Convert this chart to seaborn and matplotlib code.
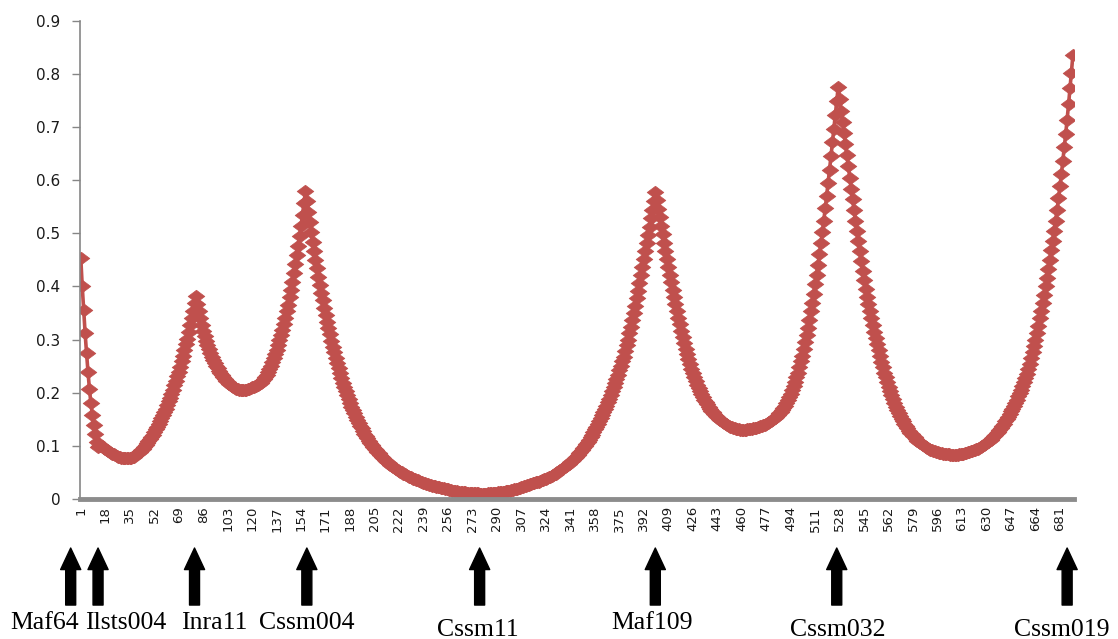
import matplotlib
matplotlib.use('Agg')
import matplotlib.pyplot as plt
from matplotlib.path import Path
import numpy as np
import pandas as pd
import seaborn as sns

# Profile values, one per map position (1..690),
# split at the valleys between the markers
lod_1_34 = [
    0.454, 0.401, 0.356, 0.313, 0.275, 0.240, 0.208, 0.181, 0.159, 0.139,
    0.122, 0.108, 0.098, 0.099, 0.100, 0.099, 0.097, 0.095, 0.093, 0.091,
    0.089, 0.087, 0.085, 0.084, 0.082, 0.081, 0.080, 0.079, 0.078, 0.078,
    0.077, 0.077, 0.077, 0.077]
lod_35_113 = [
    0.077, 0.078, 0.079, 0.080, 0.082, 0.084, 0.086, 0.089, 0.092, 0.095,
    0.098, 0.101, 0.105, 0.109, 0.113, 0.117, 0.121, 0.126, 0.131, 0.136,
    0.141, 0.146, 0.152, 0.158, 0.164, 0.170, 0.177, 0.184, 0.191, 0.198,
    0.206, 0.214, 0.222, 0.231, 0.240, 0.249, 0.259, 0.269, 0.280, 0.291,
    0.302, 0.314, 0.327, 0.340, 0.354, 0.368, 0.383, 0.367, 0.353, 0.340,
    0.328, 0.317, 0.307, 0.298, 0.290, 0.282, 0.275, 0.268, 0.262, 0.256,
    0.251, 0.246, 0.241, 0.237, 0.233, 0.229, 0.226, 0.223, 0.220, 0.217,
    0.215, 0.213, 0.211, 0.209, 0.208, 0.207, 0.206, 0.205, 0.205]
lod_114_278 = [
    0.205, 0.205, 0.206, 0.207, 0.208, 0.209, 0.210, 0.211, 0.212, 0.213,
    0.215, 0.217, 0.219, 0.222, 0.225, 0.229, 0.234, 0.239, 0.245, 0.251,
    0.258, 0.265, 0.273, 0.281, 0.290, 0.299, 0.309, 0.319, 0.330, 0.341,
    0.353, 0.366, 0.380, 0.394, 0.409, 0.425, 0.442, 0.459, 0.477, 0.495,
    0.514, 0.535, 0.557, 0.580, 0.560, 0.540, 0.521, 0.502, 0.484, 0.467,
    0.450, 0.434, 0.418, 0.403, 0.388, 0.374, 0.360, 0.347, 0.334, 0.322,
    0.310, 0.298, 0.287, 0.276, 0.266, 0.256, 0.246, 0.237, 0.228, 0.219,
    0.211, 0.203, 0.195, 0.188, 0.181, 0.174, 0.167, 0.161, 0.155, 0.149,
    0.143, 0.138, 0.133, 0.128, 0.123, 0.118, 0.114, 0.110, 0.106, 0.102,
    0.098, 0.095, 0.092, 0.089, 0.086, 0.083, 0.080, 0.077, 0.074, 0.072,
    0.069, 0.067, 0.065, 0.063, 0.061, 0.059, 0.057, 0.055, 0.053, 0.051,
    0.050, 0.048, 0.047, 0.045, 0.044, 0.042, 0.041, 0.040, 0.038, 0.037,
    0.036, 0.035, 0.034, 0.033, 0.032, 0.031, 0.030, 0.029, 0.028, 0.027,
    0.026, 0.025, 0.025, 0.024, 0.023, 0.022, 0.022, 0.021, 0.020, 0.020,
    0.019, 0.018, 0.018, 0.017, 0.017, 0.016, 0.016, 0.015, 0.015, 0.014,
    0.014, 0.014, 0.013, 0.013, 0.013, 0.012, 0.012, 0.012, 0.012, 0.011,
    0.011, 0.011, 0.011, 0.011, 0.010]
lod_279_460 = [
    0.010, 0.010, 0.010, 0.010, 0.010, 0.011, 0.011, 0.011, 0.011, 0.012,
    0.012, 0.012, 0.013, 0.013, 0.013, 0.014, 0.014, 0.015, 0.015, 0.016,
    0.016, 0.017, 0.017, 0.018, 0.019, 0.019, 0.020, 0.021, 0.022, 0.023,
    0.024, 0.025, 0.026, 0.027, 0.028, 0.029, 0.030, 0.031, 0.032, 0.033,
    0.033, 0.034, 0.035, 0.036, 0.037, 0.038, 0.040, 0.041, 0.042, 0.044,
    0.045, 0.047, 0.048, 0.050, 0.052, 0.054, 0.056, 0.058, 0.060, 0.062,
    0.064, 0.066, 0.069, 0.071, 0.074, 0.077, 0.080, 0.083, 0.086, 0.089,
    0.093, 0.096, 0.100, 0.104, 0.108, 0.112, 0.117, 0.121, 0.126, 0.131,
    0.136, 0.141, 0.146, 0.152, 0.158, 0.164, 0.170, 0.176, 0.182, 0.189,
    0.196, 0.203, 0.210, 0.218, 0.226, 0.234, 0.242, 0.250, 0.259, 0.268,
    0.278, 0.289, 0.300, 0.312, 0.324, 0.337, 0.350, 0.364, 0.378, 0.392,
    0.407, 0.422, 0.437, 0.452, 0.467, 0.482, 0.497, 0.512, 0.528, 0.544,
    0.561, 0.578, 0.562, 0.546, 0.530, 0.514, 0.498, 0.482, 0.466, 0.451,
    0.436, 0.422, 0.408, 0.394, 0.380, 0.367, 0.354, 0.341, 0.329, 0.317,
    0.305, 0.294, 0.283, 0.273, 0.263, 0.254, 0.245, 0.237, 0.229, 0.222,
    0.215, 0.209, 0.203, 0.197, 0.192, 0.187, 0.182, 0.178, 0.174, 0.170,
    0.166, 0.163, 0.160, 0.157, 0.154, 0.151, 0.149, 0.147, 0.145, 0.143,
    0.141, 0.139, 0.138, 0.136, 0.135, 0.134, 0.133, 0.132, 0.131, 0.131,
    0.130, 0.130]
lod_461_607 = [
    0.130, 0.130, 0.130, 0.131, 0.131, 0.132, 0.132, 0.133, 0.133, 0.134,
    0.135, 0.136, 0.137, 0.138, 0.139, 0.140, 0.142, 0.143, 0.145, 0.147,
    0.149, 0.151, 0.153, 0.155, 0.158, 0.161, 0.164, 0.168, 0.172, 0.176,
    0.181, 0.186, 0.192, 0.198, 0.205, 0.212, 0.220, 0.229, 0.238, 0.248,
    0.259, 0.270, 0.282, 0.295, 0.308, 0.322, 0.337, 0.353, 0.369, 0.386,
    0.404, 0.422, 0.441, 0.461, 0.481, 0.502, 0.524, 0.547, 0.571, 0.595,
    0.620, 0.645, 0.671, 0.697, 0.723, 0.749, 0.775, 0.753, 0.731, 0.710,
    0.689, 0.668, 0.647, 0.626, 0.605, 0.584, 0.564, 0.544, 0.524, 0.504,
    0.485, 0.466, 0.448, 0.430, 0.413, 0.396, 0.381, 0.367, 0.353, 0.340,
    0.327, 0.315, 0.303, 0.291, 0.280, 0.269, 0.258, 0.248, 0.238, 0.229,
    0.220, 0.211, 0.203, 0.195, 0.188, 0.181, 0.174, 0.168, 0.162, 0.156,
    0.151, 0.146, 0.141, 0.137, 0.133, 0.129, 0.125, 0.122, 0.119, 0.116,
    0.113, 0.110, 0.108, 0.106, 0.104, 0.102, 0.100, 0.098, 0.096, 0.095,
    0.093, 0.092, 0.091, 0.090, 0.089, 0.088, 0.087, 0.086, 0.086, 0.085,
    0.085, 0.084, 0.084, 0.084, 0.083, 0.083, 0.083]
lod_608_690 = [
    0.083, 0.083, 0.083, 0.084, 0.084, 0.085, 0.085, 0.086, 0.087, 0.088,
    0.089, 0.090, 0.091, 0.092, 0.093, 0.094, 0.095, 0.097, 0.098, 0.100,
    0.102, 0.104, 0.106, 0.108, 0.110, 0.112, 0.115, 0.118, 0.121, 0.124,
    0.127, 0.130, 0.134, 0.138, 0.142, 0.146, 0.150, 0.155, 0.160, 0.165,
    0.170, 0.175, 0.181, 0.187, 0.193, 0.199, 0.206, 0.213, 0.220, 0.228,
    0.236, 0.244, 0.254, 0.265, 0.276, 0.288, 0.300, 0.313, 0.326, 0.340,
    0.354, 0.369, 0.384, 0.400, 0.416, 0.433, 0.450, 0.468, 0.486, 0.505,
    0.524, 0.544, 0.566, 0.589, 0.611, 0.636, 0.662, 0.687, 0.714, 0.743,
    0.773, 0.802, 0.835]

# Markers shown under the axis (arrow position on the map, label position)
marker_names = ['Maf64', 'Ilsts004', 'Inra11', 'Cssm004',
                'Cssm11', 'Maf109', 'Cssm032', 'Cssm019']
marker_pos = [-6, 13, 80, 158, 278, 400, 526, 686]
label_pos = [-24, 32, 94, 158, 277, 398, 527, 682]

tick_labels = list(range(1, 682, 17))
y_ticks = [0, 0.1, 0.2, 0.3, 0.4, 0.5, 0.6, 0.7, 0.8, 0.9]

values = lod_1_34 + lod_35_113 + lod_114_278 + lod_279_460 + lod_461_607 + lod_608_690
df = pd.DataFrame({'pos': np.arange(1, len(values) + 1), 'value': values})

sns.set_style('white')
plt.rcParams['font.family'] = ['DejaVu Sans']

fig = plt.figure(figsize=(11.18, 6.39), dpi=100)
ax = fig.add_axes([0.0716, 0.219, 0.8887, 0.7485])

# wide diamond like the Excel marker
diamond = Path([(-1, 0), (0, 0.75), (1, 0), (0, -0.75), (-1, 0)],
               [Path.MOVETO, Path.LINETO, Path.LINETO, Path.LINETO, Path.CLOSEPOLY])
red = '#C0504D'
sns.lineplot(data=df, x='pos', y='value', ax=ax, color=red, linewidth=2.6,
             marker=diamond, markersize=12, markeredgewidth=0.5,
             markeredgecolor=red, errorbar=None)

ax.set_xlim(0.5, 690.5)
ax.set_ylim(0, 0.9)
ax.set_xlabel('')
ax.set_ylabel('')

ax.set_xticks(tick_labels)
ax.set_xticklabels([str(t) for t in tick_labels], rotation=90, fontsize=9.5, color='#1a1a1a')
ax.set_xticks(np.arange(4, 690, 37.5), minor=True)
ax.tick_params(axis='x', which='major', length=0, pad=5)
ax.tick_params(axis='x', which='minor', length=6, width=1, color='#b0b0b0', direction='inout')

ax.set_yticks(y_ticks)
ax.set_yticklabels(['0' if v == 0 else f'{v:.1f}' for v in y_ticks], fontsize=11, color='#1a1a1a')
ax.tick_params(axis='y', length=6, width=1, color='#868686', pad=8, left=True)

for side in ['top', 'right']:
    ax.spines[side].set_visible(False)
ax.spines['left'].set_color('#868686')
ax.spines['left'].set_linewidth(1.2)
ax.spines['bottom'].set_color('#8c8c8c')
ax.spines['bottom'].set_linewidth(3.5)

trans = ax.get_xaxis_transform()
for name, xp, xl in zip(marker_names, marker_pos, label_pos):
    ax.annotate('', xy=(xp, -0.1024), xytext=(xp, -0.2216), xycoords=trans,
                textcoords=trans, annotation_clip=False,
                arrowprops=dict(arrowstyle='simple,head_length=1.55,head_width=1.45,tail_width=0.72',
                                mutation_scale=10, color='black', shrinkA=0, shrinkB=0))
    low = name in ('Cssm11', 'Cssm032', 'Cssm019')
    ax.text(xl, -0.2854 if low else -0.2708, name, transform=trans,
            ha='center', va='baseline', fontsize=18.5,
            family=['Liberation Serif', 'DejaVu Serif'], color='black')

fig.savefig('out.png', dpi=100)
